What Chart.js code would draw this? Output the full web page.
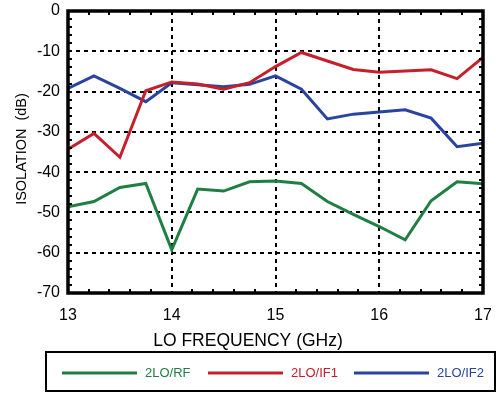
<!DOCTYPE html>
<html>
<head>
<meta charset="utf-8">
<script src="https://cdn.jsdelivr.net/npm/chart.js@4/dist/chart.umd.min.js"></script>
<style>
  html, body { margin: 0; padding: 0; background: #fff; }
  #wrap { width: 496px; height: 393px; }
</style>
</head>
<body>
<div id="wrap"><canvas id="c" width="496" height="393"></canvas></div>
<script>
// LO frequency sweep (GHz) and isolation results (dB)
const freqGHz = [13, 13.25, 13.5, 13.75, 14, 14.25, 14.5, 14.75, 15, 15.25, 15.5, 15.75, 16, 16.25, 16.5, 16.75, 17];
const iso2LoRf  = [-48.6, -47.3, -43.8, -42.8, -59.3, -44.2, -44.7, -42.4, -42.2, -42.8, -47.3, -50.5, -53.5, -56.8, -47.1, -42.4, -42.9];
const iso2LoIf1 = [-34.3, -30.4, -36.3, -19.8, -17.6, -18.1, -19.4, -17.8, -13.8, -10.3, -12.4, -14.5, -15.2, -14.9, -14.6, -16.8, -11.5];
const iso2LoIf2 = [-19.2, -16.1, -19.2, -22.5, -17.8, -18.3, -18.8, -18.2, -16.1, -19.4, -26.8, -25.6, -25.1, -24.5, -26.6, -33.7, -32.8];

const seriesNames  = ['2LO/RF', '2LO/IF1', '2LO/IF2'];
const seriesColors = ['#1f7f43', '#c4202c', '#2a43a0'];

const xRange = { min: 13, max: 17, step: 1, minorStep: 0.2 };
const yRange = { min: -70, max: 0, step: 10, minorStep: 2 };

const FONT = 'Liberation Sans, Arial, Helvetica, sans-serif';

const pts = (ys) => freqGHz.map((x, i) => ({ x, y: ys[i] }));

// Heavy frame with inward minor ticks on every side
const framePlugin = {
  id: 'frame',
  afterDatasetsDraw(chart) {
    const { ctx, chartArea: a, scales } = chart;
    ctx.save();
    ctx.strokeStyle = '#000';
    ctx.lineWidth = 2;
    const tl = 4;
    for (let v = xRange.min + xRange.minorStep; v < xRange.max - 1e-6; v += xRange.minorStep) {
      if (Math.abs(v - Math.round(v)) < 1e-6) continue;
      const px = Math.round(scales.x.getPixelForValue(v));
      ctx.beginPath();
      ctx.moveTo(px, a.top); ctx.lineTo(px, a.top + tl);
      ctx.moveTo(px, a.bottom); ctx.lineTo(px, a.bottom - tl);
      ctx.stroke();
    }
    for (let v = yRange.min + yRange.minorStep; v < yRange.max - 1e-6; v += yRange.minorStep) {
      if (Math.abs(v / yRange.step - Math.round(v / yRange.step)) < 1e-6) continue;
      const py = Math.round(scales.y.getPixelForValue(v));
      ctx.beginPath();
      ctx.moveTo(a.left, py); ctx.lineTo(a.left + tl, py);
      ctx.moveTo(a.right, py); ctx.lineTo(a.right - tl, py);
      ctx.stroke();
    }
    ctx.lineWidth = 3.5;
    ctx.strokeRect(a.left, a.top, a.right - a.left, a.bottom - a.top);
    ctx.restore();
  }
};

// Axis titles and the boxed legend underneath
const annotatePlugin = {
  id: 'annotate',
  afterDraw(chart) {
    const { ctx, chartArea: a } = chart;
    ctx.save();
    ctx.fillStyle = '#000';
    ctx.font = '17.5px ' + FONT;
    ctx.textAlign = 'center';
    ctx.textBaseline = 'middle';
    ctx.fillText('LO FREQUENCY (GHz)', 248, 341);

    ctx.save();
    ctx.translate(22, (a.top + a.bottom) / 2 - 3);
    ctx.rotate(-Math.PI / 2);
    ctx.font = '14.5px ' + FONT;
    ctx.fillText('ISOLATION  (dB)', 0, 0);
    ctx.restore();

    // legend frame
    ctx.lineWidth = 2;
    ctx.strokeStyle = '#000';
    ctx.strokeRect(46, 352, 449, 39);
    const ly = 373;
    chart.data.datasets.forEach((ds, i) => {
      const x0 = 62 + i * 146;
      ctx.strokeStyle = ds.borderColor;
      ctx.lineWidth = 3;
      ctx.beginPath();
      ctx.moveTo(x0, ly); ctx.lineTo(x0 + 75, ly);
      ctx.stroke();
      ctx.fillStyle = ds.borderColor;
      ctx.font = '13px ' + FONT;
      ctx.textAlign = 'left';
      ctx.fillText(ds.label, x0 + 83, ly);
    });
    ctx.restore();
  }
};

const noEdgePadding = (s) => { s.paddingLeft = 0; s.paddingRight = 0; s.paddingTop = 0; s.paddingBottom = 0; };

new Chart(document.getElementById('c'), {
  type: 'line',
  data: {
    datasets: [
      { label: seriesNames[0], data: pts(iso2LoRf),  borderColor: seriesColors[0] },
      { label: seriesNames[1], data: pts(iso2LoIf1), borderColor: seriesColors[1] },
      { label: seriesNames[2], data: pts(iso2LoIf2), borderColor: seriesColors[2] }
    ]
  },
  options: {
    responsive: false,
    animation: false,
    devicePixelRatio: 1,
    layout: { padding: { left: 0, top: 11, right: 13, bottom: 0 } },
    elements: {
      line: { borderWidth: 3, tension: 0, fill: false },
      point: { radius: 0, hoverRadius: 0 }
    },
    plugins: { legend: { display: false }, tooltip: { enabled: false } },
    scales: {
      x: {
        type: 'linear',
        min: xRange.min, max: xRange.max,
        afterFit(s) { s.height = 100; noEdgePadding(s); },
        ticks: { stepSize: xRange.step, color: '#000', font: { family: FONT, size: 16 }, padding: 13, maxRotation: 0 },
        grid: {
          drawTicks: false, lineWidth: 2,
          color: (c) => (c.tick && (c.tick.value === xRange.min || c.tick.value === xRange.max)) ? 'rgba(0,0,0,0)' : '#000'
        },
        border: { display: false, dash: [4, 4] }
      },
      y: {
        min: yRange.min, max: yRange.max,
        afterFit(s) { s.width = 68; noEdgePadding(s); },
        ticks: { stepSize: yRange.step, color: '#000', font: { family: FONT, size: 16 }, padding: 8 },
        grid: {
          drawTicks: false, lineWidth: 2,
          color: (c) => (c.tick && (c.tick.value === yRange.min || c.tick.value === yRange.max)) ? 'rgba(0,0,0,0)' : '#000'
        },
        border: { display: false, dash: [4, 4] }
      }
    }
  },
  plugins: [framePlugin, annotatePlugin]
});
</script>
</body>
</html>
